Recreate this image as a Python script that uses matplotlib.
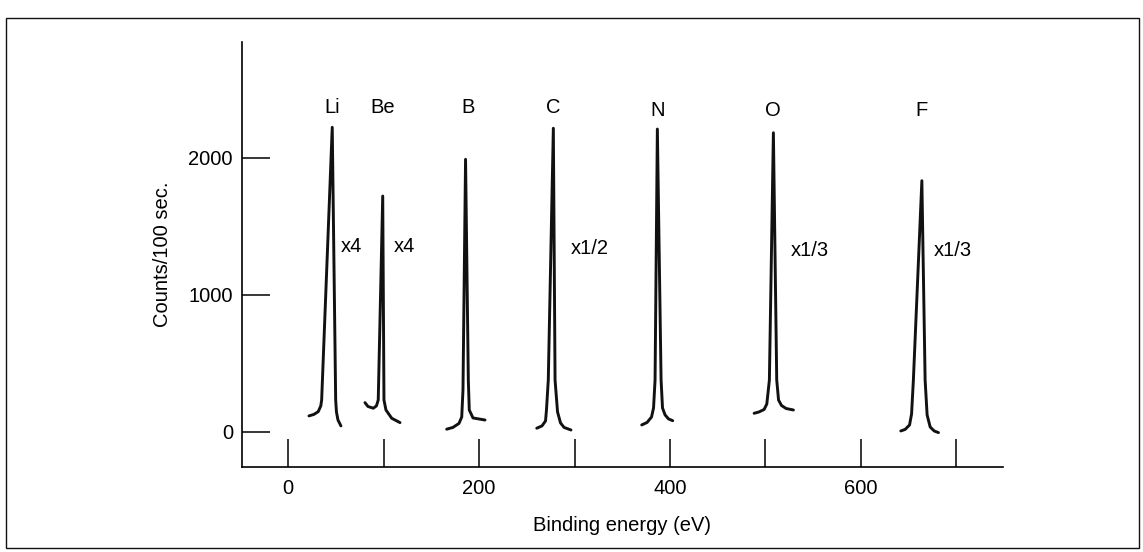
import matplotlib
matplotlib.use('Agg')
import matplotlib.pyplot as plt
from matplotlib.patches import Rectangle

plt.rcParams['font.family'] = ['Liberation Sans', 'DejaVu Sans']
plt.rcParams['font.size'] = 14.5

# element labels and multipliers
elements = ['Li', 'Be', 'B', 'C', 'N', 'O', 'F']
label_x = [45.7, 99.3, 188.4, 277.5, 387.2, 508.1, 664.0]
label_y = [2363, 2363, 2363, 2363, 2348, 2348, 2348]

factors = ['x4', 'x4', 'x1/2', 'x1/3', 'x1/3']
factor_x = [66.5, 121.3, 315.5, 546.1, 696.0]
factor_y = [1355, 1355, 1339, 1321, 1321]

# peaks: binding energy (eV), counts/100 sec
li_e = [21.7, 26.9, 31.4, 34.1, 35.0, 46.1, 49.7, 50.5, 52.1, 55.2]
li_c = [115, 126, 146, 188, 231, 2222, 231, 144, 85, 42]
be_e = [80.4, 83.5, 89.1, 92.4, 94.3, 99.0, 100.3, 102.4, 108.4, 117.1]
be_c = [212, 184, 171, 188, 231, 1720, 231, 158, 98, 66]
b_e = [166.0, 172.6, 178.9, 181.8, 183.1, 185.8, 188.7, 189.7, 193.6, 206.2]
b_c = [18, 31, 60, 107, 304, 1988, 377, 158, 100, 85]
c_e = [260.4, 265.9, 269.6, 270.6, 272.5, 277.8, 279.6, 282.2, 285.3, 289.0, 296.3]
c_c = [25, 42, 78, 158, 377, 2215, 377, 144, 64, 31, 12]
n_e = [370.4, 376.0, 380.7, 382.8, 384.4, 386.8, 390.7, 392.2, 394.9, 398.5, 402.9]
n_c = [49, 67, 107, 173, 377, 2209, 377, 173, 122, 93, 80]
o_e = [488.2, 493.4, 498.7, 501.5, 504.2, 508.4, 511.9, 513.8, 516.9, 521.7, 529.4]
o_c = [134, 144, 162, 202, 377, 2182, 377, 231, 191, 169, 158]
f_e = [641.9, 646.4, 651.1, 653.2, 655.1, 664.0, 667.4, 669.5, 672.7, 676.9, 681.4]
f_c = [5, 16, 49, 129, 377, 1832, 377, 122, 34, 5, -7]

peaks = [(li_e, li_c), (be_e, be_c), (b_e, b_c), (c_e, c_c),
         (n_e, n_c), (o_e, o_c), (f_e, f_c)]

x_ticks = [0, 100, 200, 300, 400, 500, 600, 700]
x_ticklabels = ['0', '', '200', '', '400', '', '600', '']
y_ticks = [0, 1000, 2000]

fig = plt.figure(figsize=(11.43, 5.52), dpi=100)
ax = fig.add_axes([0.2117, 0.154, 0.6658, 0.770])

for e, c in peaks:
    ax.plot(e, c, color='#111111', lw=2.1, solid_joinstyle='round', solid_capstyle='round')

for name, x, y in zip(elements, label_x, label_y):
    ax.text(x, y, name, ha='center', va='center')
for name, x, y in zip(factors, factor_x, factor_y):
    ax.text(x, y, name, ha='center', va='center')

ax.set_xlim(-48.5, 749)
ax.set_ylim(-258, 2845)
ax.spines['top'].set_visible(False)
ax.spines['right'].set_visible(False)
ax.spines['left'].set_linewidth(1.2)
ax.spines['bottom'].set_linewidth(1.2)
ax.set_xticks(x_ticks)
ax.set_xticklabels(x_ticklabels)
ax.set_yticks(y_ticks)
ax.tick_params(axis='both', direction='in', length=20, width=1.1, labelsize=14.5)
ax.tick_params(axis='x', pad=8.5)
ax.tick_params(axis='y', pad=6.5)
ax.set_xlabel('Binding energy (eV)', labelpad=13)
ax.set_ylabel('Counts/100 sec.', labelpad=12)

# frame around the whole figure
fig.patches.append(Rectangle((0.005, 0.007), 0.9915, 0.96, transform=fig.transFigure,
                             fill=False, edgecolor='#111111', lw=1.0))

plt.savefig('out.png', dpi=100)
